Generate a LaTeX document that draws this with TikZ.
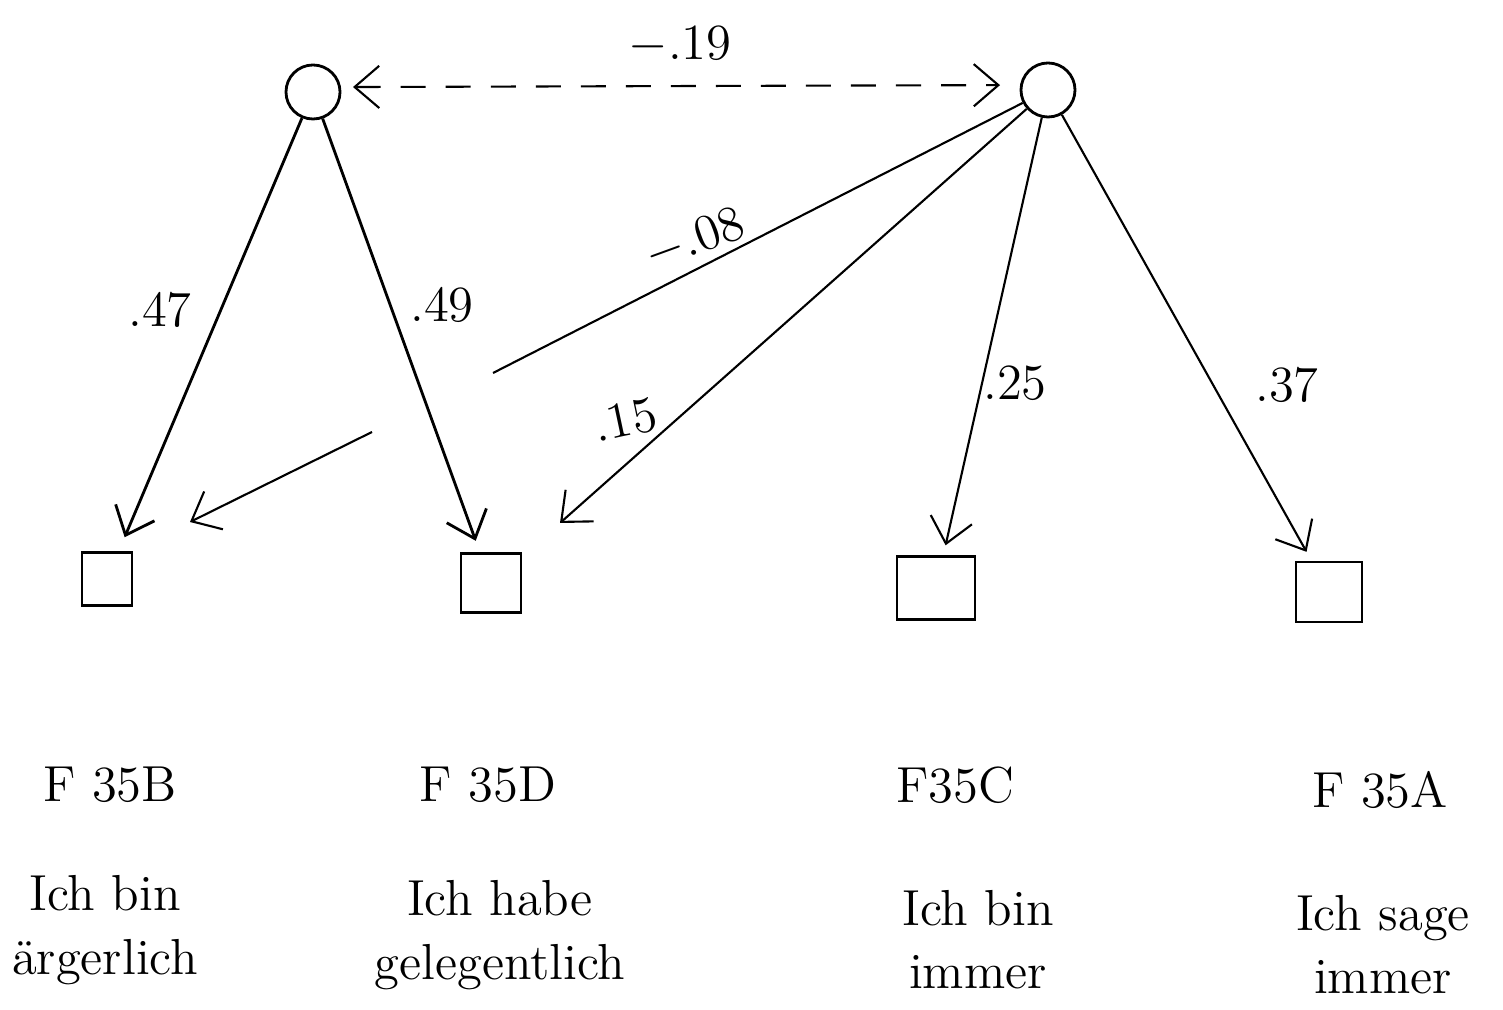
\documentclass[tikz,border=0pt]{standalone}
\usetikzlibrary{arrows.meta}
\tikzset{
  factor/.style={circle,draw,thick,minimum size=0.54cm,inner sep=0pt},
  itembox/.style={rectangle,draw,thick,inner sep=0pt},
  load/.style={-{Straight Barb[length=7pt,width=12pt]}},
  wt/.style={font=\Large,inner sep=1pt},
  itemtxt/.style={font=\Large,align=center},
}
\begin{document}
\begin{tikzpicture}[x=0.01cm,y=-0.01cm]
  \useasboundingbox (0,0) rectangle (1503,1010);
  % factors
  \node[factor] (L) at (313,92) {};
  \node[factor] (R) at (1048,90) {};
  % items
  \node[itembox,minimum width=0.50cm,minimum height=0.53cm] (b1) at (107,579) {};
  \node[itembox,minimum width=0.60cm,minimum height=0.59cm] (b2) at (491,583) {};
  \node[itembox,minimum width=0.78cm,minimum height=0.63cm] (b3) at (936,588) {};
  \node[itembox,minimum width=0.66cm,minimum height=0.60cm] (b4) at (1329,592) {};
  \coordinate (t15) at (560,523);
  \coordinate (g1) at (493,373);
  \coordinate (g2) at (372,432);
  \coordinate (t08) at (190,522);
  % correlation
  \draw[{Straight Barb[length=7pt,width=12pt]}-{Straight Barb[length=7pt,width=12pt]},
        dash pattern=on 0.25cm off 0.2cm,semithick,shorten <=0.12cm,shorten >=0.2cm]
        (L.10) -- (R.170);
  \node[wt] (r) at (680,45) {$-.19$};
  % loadings
  \draw[load,thick,shorten >=0.15cm] (L) -- (b1);
  \draw[load,thick,shorten >=0.12cm] (L) -- (b2);
  \draw[load,semithick] (R) -- (t15);
  \draw[semithick] (R) -- (g1);
  \draw[load,semithick] (g2) -- (t08);
  \draw[load,semithick,shorten >=0.1cm] (R) -- (b3);
  \draw[load,semithick,shorten >=0.1cm] (R) -- (b4);
  \node[wt] (w1) at (160,310) {.47};
  \node[wt] (w2) at (442,305) {.49};
  \node[wt,rotate=12] (w3) at (625,420) {.15};
  \node[wt,rotate=20] (w4) at (695,240) {$-.08$};
  \node[wt] (w5) at (1015,383) {.25};
  \node[wt] (w6) at (1287,385) {.37};
  % labels
  \node[wt] (f1) at (110,785) {F 35B};
  \node[wt] (f2) at (488,785) {F 35D};
  \node[wt] (f3) at (955,785) {F35C};
  \node[wt] (f4) at (1380,790) {F 35A};
  \node[itemtxt] (x1) at (105,930) {Ich bin\\ärgerlich};
  \node[itemtxt] (x2) at (500,935) {Ich habe\\gelegentlich};
  \node[itemtxt] (x3) at (978,940) {Ich bin\\immer};
  \node[itemtxt] (x4) at (1383,945) {Ich sage\\immer};
\end{tikzpicture}
\end{document}
